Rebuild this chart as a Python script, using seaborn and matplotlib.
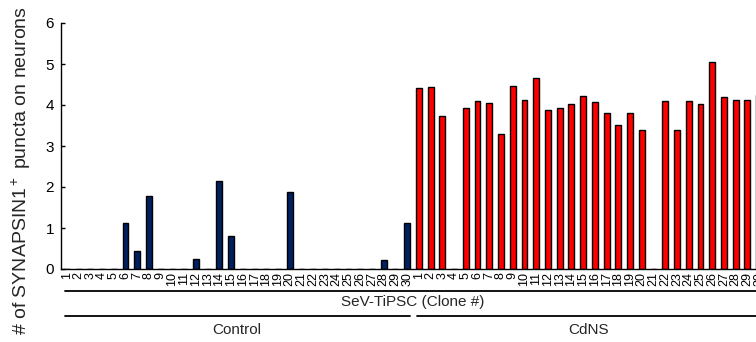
import numpy as np
import pandas as pd
import seaborn as sns
import matplotlib.pyplot as plt

# clone numbers and puncta counts
control_clones = [str(i) for i in range(1, 31)]
control_vals = [0, 0, 0, 0, 0, 1.11, 0.45, 1.78, 0, 0,
                0, 0.24, 0, 2.14, 0.81, 0, 0, 0, 0, 1.87,
                0, 0, 0, 0, 0, 0, 0, 0.21, 0, 1.11]
cdns_clones = [str(i) for i in range(1, 31)]
cdns_vals = [4.41, 4.43, 3.72, 0, 3.93, 4.09, 4.05, 3.30, 4.46, 4.13,
             4.67, 3.88, 3.93, 4.03, 4.22, 4.08, 3.80, 3.51, 3.80, 3.39,
             0, 4.10, 3.40, 4.09, 4.03, 5.05, 4.20, 4.11, 4.13, 4.24]

ylabel = "# of SYNAPSIN1$^+$ puncta on neurons"
group_title = "SeV-TiPSC (Clone #)"

colors = {"Control": "#002060", "CdNS": "#ff0000"}

df = pd.DataFrame({
    "pos": np.arange(len(control_vals) + len(cdns_vals)),
    "clone": control_clones + cdns_clones,
    "value": control_vals + cdns_vals,
    "group": ["Control"] * len(control_vals) + ["CdNS"] * len(cdns_vals),
})

sns.set_style("ticks")
plt.rcParams['font.family'] = ['Liberation Sans', 'DejaVu Sans']
plt.rcParams['mathtext.fontset'] = 'custom'
plt.rcParams['mathtext.rm'] = 'Liberation Sans'
plt.rcParams['mathtext.it'] = 'Liberation Sans'

W, H = 756, 342
fig = plt.figure(figsize=(W / 100, H / 100), dpi=100)
# axes run past the right edge of the figure, like the cropped original
ax = fig.add_axes([61 / W, (H - 269) / H, 704 / W, 246 / H])

sns.barplot(data=df, x="pos", y="value", hue="group", palette=colors,
            saturation=1, dodge=False, width=0.5, edgecolor="black",
            linewidth=1, legend=False, ax=ax)

ax.set_xlim(-0.5, len(df) - 0.5)
ax.set_ylim(0, 6)
ax.set_yticks(range(7))
ax.tick_params(axis="y", direction="in", length=3, width=1, labelsize=11, pad=5)
ax.set_xticks(df["pos"])
ax.set_xticklabels(df["clone"], rotation=90, fontsize=9)
ax.tick_params(axis="x", length=0, pad=2)
ax.set_xlabel("")
ax.set_ylabel("")
for s in ["top", "right"]:
    ax.spines[s].set_visible(False)
for s in ["left", "bottom"]:
    ax.spines[s].set_linewidth(1)
    ax.spines[s].set_color("black")
ax.tick_params(colors="black")

trans = ax.get_xaxis_transform()
n_ctrl = len(control_vals)
ax.plot([-0.2, len(df) + 1], [-0.089, -0.089], color="black", lw=1.3,
        transform=trans, clip_on=False)
ax.text((len(df) - 1) / 2, -0.134, group_title, transform=trans,
        ha="center", va="center", fontsize=11)
ax.plot([-0.2, n_ctrl - 0.75], [-0.191, -0.191], color="black", lw=1.3,
        transform=trans, clip_on=False)
ax.plot([n_ctrl - 0.2, len(df) + 1], [-0.191, -0.191], color="black", lw=1.3,
        transform=trans, clip_on=False)
ax.text((n_ctrl - 1) / 2, -0.248, "Control", transform=trans,
        ha="center", va="center", fontsize=11)
ax.text(n_ctrl + (len(cdns_vals) - 1) / 2, -0.248, "CdNS", transform=trans,
        ha="center", va="center", fontsize=11)

fig.text(21 / W, 0.5, ylabel, rotation=90, ha="center", va="center", fontsize=14)

fig.savefig("out.png", dpi=100)
